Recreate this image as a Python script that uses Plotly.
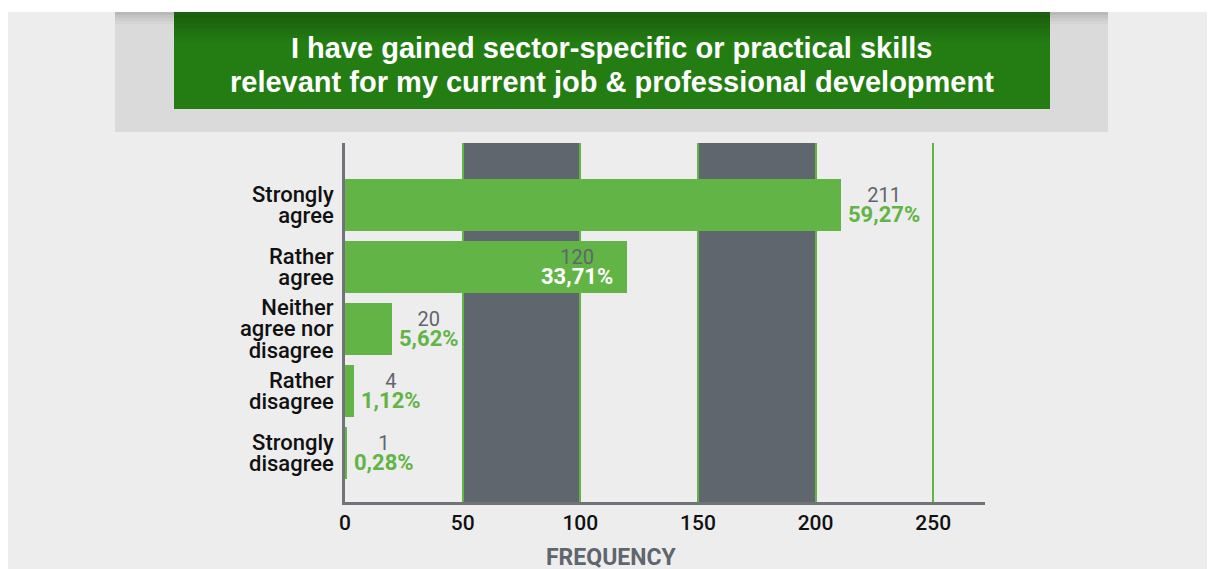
import plotly.graph_objects as go

# ---- data ----
categories = ["Strongly agree", "Rather agree", "Neither agree nor disagree",
              "Rather disagree", "Strongly disagree"]
label_lines = [["Strongly", "agree"], ["Rather", "agree"],
               ["Neither", "agree nor", "disagree"],
               ["Rather", "disagree"], ["Strongly", "disagree"]]
counts = [211, 120, 20, 4, 1]
percents = ["59,27%", "33,71%", "5,62%", "1,12%", "0,28%"]
x_ticks = [0, 50, 100, 150, 200, 250]
title_lines = ["I have gained sector-specific or practical skills",
               "relevant for my current job & professional development"]
x_title = "FREQUENCY"

# ---- styling ----
OFF = 0                      # page body margin removed by post_script
W_FIG, H_FIG = 1208, 569
# plot area in screen pixels
SL, SR, ST, SB = 345, 985, 143, 502
L, R, T, B = SL - OFF, SR - OFF, ST - OFF, SB - OFF
PW, PH = R - L, B - T
GREEN = "#62b446"
DARK = "#5f666d"
BG = "#ededed"
FONT = "Roboto"


def px(x):
    """screen x -> paper fraction"""
    return (x - SL) / PW


def py(y):
    """screen y -> paper fraction"""
    return (SB - y) / PH


pos = list(range(len(categories)))

fig = go.Figure()
fig.add_trace(go.Bar(
    x=counts, y=pos, orientation="h", width=0.84,
    marker=dict(color=GREEN, line=dict(width=0)),
    hoverinfo="skip", showlegend=False,
))

shapes = []
# page background
shapes.append(dict(type="rect", xref="paper", yref="paper", x0=px(8), x1=px(1207),
                   y0=py(575), y1=py(12), fillcolor=BG, line=dict(width=0), layer="below"))
# header gray box
shapes.append(dict(type="rect", xref="paper", yref="paper", x0=px(115), x1=px(1108),
                   y0=py(132), y1=py(12), fillcolor="#dadada", line=dict(width=0), layer="below"))
# subtle shadow at top of header
shade = ["#b9b9b9", "#c4c4c4", "#cdcdcd", "#d4d4d4"]
for k, c in enumerate(shade):
    shapes.append(dict(type="rect", xref="paper", yref="paper", x0=px(115), x1=px(1108),
                       y0=py(12 + 3 * (k + 1)), y1=py(12 + 3 * k), fillcolor=c,
                       line=dict(width=0), layer="below"))
# green title box with gradient
shapes.append(dict(type="rect", xref="paper", yref="paper", x0=px(174), x1=px(1050),
                   y0=py(109), y1=py(12), fillcolor="#237d13", line=dict(width=0), layer="below"))
top_c = (0x1c, 0x5c, 0x0e)
bot_c = (0x23, 0x7d, 0x13)
n = 12
for k in range(n):
    t = k / n
    c = tuple(int(top_c[j] + (bot_c[j] - top_c[j]) * t) for j in range(3))
    shapes.append(dict(type="rect", xref="paper", yref="paper", x0=px(174), x1=px(1050),
                       y0=py(12 + 2.5 * (k + 1)), y1=py(12 + 2.5 * k),
                       fillcolor="rgb(%d,%d,%d)" % c, line=dict(width=0), layer="below"))
# dark bands
for a, b in [(50, 100), (150, 200)]:
    shapes.append(dict(type="rect", xref="x", yref="paper", x0=a, x1=b, y0=0, y1=1,
                       fillcolor=DARK, line=dict(width=0), layer="below"))

annotations = []
# title
for k, line in enumerate(title_lines):
    annotations.append(dict(xref="paper", yref="paper", x=px(612), y=py(48 + 34 * k),
                            text="<b>%s</b>" % line, showarrow=False,
                            xanchor="center", yanchor="middle",
                            font=dict(family="Liberation Sans", size=29, color="white")))
# category labels
for i, lines in enumerate(label_lines):
    txt = "<br>".join('<span style="font-size:22px">%s</span>' % s for s in lines)
    annotations.append(dict(xref="paper", yref="y", x=0, y=pos[i], xanchor="right",
                            yanchor="middle", xshift=-9, align="right", text=txt,
                            showarrow=False,
                            font=dict(family=FONT, size=16.5, color="#111111", weight=500)))
# value labels (the 120 bar carries its label inside, as in the reference)
for i, (c, p) in enumerate(zip(counts, percents)):
    inside = (c == 120)
    pct_col = "white" if inside else GREEN
    txt = ('<span style="font-size:20px;color:%s">%d</span><br>'
           '<span style="font-size:22px;color:%s;font-weight:bold">%s</span>') % (DARK, c, pct_col, p)
    annotations.append(dict(xref="x", yref="y", x=c, y=pos[i],
                            xanchor="right" if inside else "left",
                            xshift=-12 if inside else 5, yanchor="middle", align="center",
                            text=txt, showarrow=False, yshift=0,
                            font=dict(family=FONT, size=15, color=DARK)))
# x-axis title
annotations.append(dict(xref="paper", yref="paper", x=px(611), y=py(557), text="<b>%s</b>" % x_title,
                        showarrow=False, xanchor="center", yanchor="middle",
                        font=dict(family=FONT, size=23, color=DARK)))

fig.update_layout(
    width=W_FIG, height=H_FIG,
    margin=dict(l=L, r=W_FIG - R, t=T, b=H_FIG - B, pad=0),
    paper_bgcolor="white", plot_bgcolor="rgba(0,0,0,0)",
    shapes=shapes, annotations=annotations, bargap=0,
    xaxis=dict(range=[0, 272], tickvals=x_ticks, ticktext=[str(v) for v in x_ticks],
               showgrid=True, gridcolor=GREEN, gridwidth=2, zeroline=False,
               showline=True, linecolor="#707478", linewidth=3,
               ticks="",
               tickfont=dict(family=FONT, size=21, color="#111111", weight=500),
               fixedrange=True),
    yaxis=dict(range=[len(categories) - 1 + 0.79, -1.008], showticklabels=False,
               showgrid=False, zeroline=False, showline=True, linecolor="#707478",
               linewidth=3, ticks="", fixedrange=True),
    font=dict(family=FONT),
)

fig.write_html("out.html", config={"displayModeBar": False},
               post_script="document.body.style.margin='0';document.body.style.overflow='hidden';")
